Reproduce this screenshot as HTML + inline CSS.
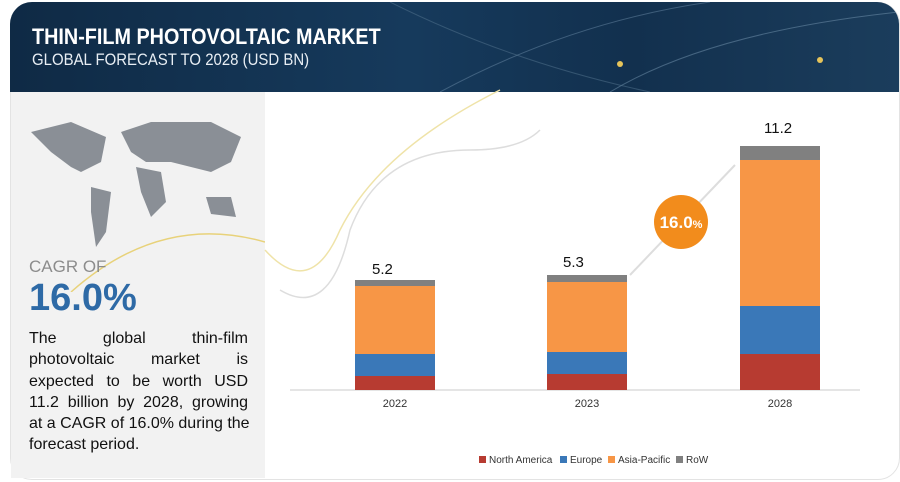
<!DOCTYPE html>
<html><head><style>
body{margin:0;width:900px;height:482px;background:#fff;font-family:"Liberation Sans",sans-serif;position:relative;overflow:hidden}
.frame{position:absolute;left:10px;top:2px;width:888px;height:476px;border:1px solid #e3e3e3;border-radius:22px;overflow:hidden}
.hdr{position:absolute;left:10px;top:2px;width:889px;height:90px;border-radius:22px 22px 0 0;background:linear-gradient(90deg,#0f2a45,#163a5c 45%,#12304e 70%,#1b3d5c);overflow:hidden}
.t1{position:absolute;left:22px;top:22px;color:#fff;font-weight:bold;font-size:22px;transform:scaleX(.9);transform-origin:left}
.t2{position:absolute;left:22px;top:48px;color:#e8eef4;font-size:17px;transform:scaleX(.88);transform-origin:left}
.left{position:absolute;left:11px;top:92px;width:254px;height:386px;background:#f2f2f2}
.bar{position:absolute;width:80px}
.lab{position:absolute;font-size:15px;color:#111}
.yr{position:absolute;font-size:11px;color:#333;width:80px;text-align:center;top:398px}
.lg{position:absolute;top:455px;font-size:10px;color:#333}
.lg i{display:inline-block;width:7px;height:7px;margin-right:3px}
.p div{text-align:justify;text-align-last:justify;height:21.3px;white-space:nowrap}
.p div.l{text-align-last:left}
</style></head><body>
<div class="frame"></div>
<div class="hdr">
<svg width="889" height="90" style="position:absolute;left:0;top:0"><path d="M430 90 Q560 20 700 0" stroke="#6a8aa5" fill="none" opacity=".5"/><path d="M600 90 Q700 30 889 10" stroke="#8fb0c8" fill="none" opacity=".4"/><path d="M380 0 Q500 60 640 90" stroke="#56758f" fill="none" opacity=".5"/><circle cx="610" cy="62" r="3" fill="#e6c45a"/><circle cx="810" cy="58" r="3" fill="#e6c45a"/></svg>
<div class="t1">THIN-FILM PHOTOVOLTAIC MARKET</div>
<div class="t2">GLOBAL FORECAST TO 2028 (USD BN)</div>
</div>
<div class="left">
<svg width="254" height="200" style="position:absolute;left:0;top:0">
<path d="M20 40 L60 30 L95 45 L90 70 L70 80 L60 75 L40 60 Z M80 95 L100 100 L95 140 L85 155 L80 120 Z M110 40 L140 30 L200 30 L230 45 L220 70 L200 80 L180 75 L160 70 L135 70 L120 60 Z M125 75 L150 80 L155 110 L140 125 L130 100 Z M195 105 L220 105 L225 125 L200 122 Z" fill="#8a8f96"/>
<path d="M60 200 Q150 120 254 150" stroke="#e8d27a" fill="none" stroke-width="1.5"/>
</svg>
<div style="position:absolute;left:18px;top:165px;font-size:17px;color:#8c8c8c">CAGR OF</div>
<div style="position:absolute;left:18px;top:185px;font-size:38px;color:#2e6aa6;font-weight:bold">16.0%</div>
<div class="p" style="position:absolute;left:18px;top:236px;width:219px;font-size:16px;line-height:21.3px;color:#111">
<div>The global thin-film</div><div>photovoltaic market is</div><div>expected to be worth USD</div><div>11.2 billion by 2028, growing</div><div>at a CAGR of 16.0% during the</div><div class="l">forecast period.</div>
</div>
</div>
<svg width="900" height="482" style="position:absolute;left:0;top:0">
<path d="M280 290 Q330 320 350 230 Q380 150 470 150 Q520 150 540 130" stroke="#ddd" fill="none" stroke-width="1.5"/>
<path d="M265 250 Q310 300 340 230 Q380 150 500 90" stroke="#efe3a8" fill="none" stroke-width="1.5"/>
<line x1="290" y1="390" x2="860" y2="390" stroke="#e5e5e5" stroke-width="2"/>
<line x1="630" y1="275" x2="735" y2="165" stroke="#ddd" stroke-width="2"/>
<circle cx="681" cy="222" r="27" fill="#f28c1c"/>
<text x="681" y="228" text-anchor="middle" font-family="Liberation Sans" font-weight="bold" font-size="17" fill="#fff">16.0<tspan font-size="11">%</tspan></text>
</svg>
<div class="bar" style="left:355px;top:280px;height:6px;background:#808080"></div>
<div class="bar" style="left:355px;top:286px;height:68px;background:#f79646"></div>
<div class="bar" style="left:355px;top:354px;height:22px;background:#3a78b8"></div>
<div class="bar" style="left:355px;top:376px;height:14px;background:#b73b31"></div>
<div class="bar" style="left:547px;top:275px;height:7px;background:#808080"></div>
<div class="bar" style="left:547px;top:282px;height:70px;background:#f79646"></div>
<div class="bar" style="left:547px;top:352px;height:22px;background:#3a78b8"></div>
<div class="bar" style="left:547px;top:374px;height:16px;background:#b73b31"></div>
<div class="bar" style="left:740px;top:146px;height:14px;background:#808080"></div>
<div class="bar" style="left:740px;top:160px;height:146px;background:#f79646"></div>
<div class="bar" style="left:740px;top:306px;height:48px;background:#3a78b8"></div>
<div class="bar" style="left:740px;top:354px;height:36px;background:#b73b31"></div>
<div class="lab" style="left:372px;top:261px">5.2</div>
<div class="lab" style="left:563px;top:254px">5.3</div>
<div class="lab" style="left:764px;top:120px">11.2</div>
<div class="yr" style="left:355px">2022</div>
<div class="yr" style="left:547px">2023</div>
<div class="yr" style="left:740px">2028</div>
<div class="lg" style="left:479px"><i style="background:#b73b31"></i>North America</div>
<div class="lg" style="left:560px"><i style="background:#3a78b8"></i>Europe</div>
<div class="lg" style="left:608px"><i style="background:#f79646"></i>Asia-Pacific</div>
<div class="lg" style="left:676px"><i style="background:#808080"></i>RoW</div>
</body></html>
